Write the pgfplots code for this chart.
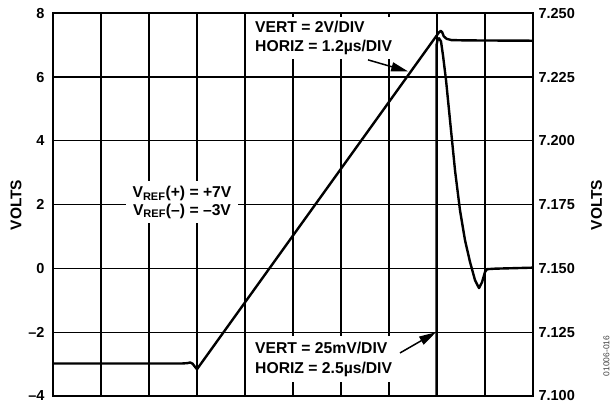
\documentclass[border=0pt]{standalone}
\usepackage{pgfplots}
\pgfplotsset{compat=1.18}
\usepackage{fontspec}
\setmainfont{Liberation Sans}
\usetikzlibrary{arrows.meta}

\newcommand{\tickfont}{\fontsize{14.5}{16}\selectfont\bfseries}
\newcommand{\annfont}{\fontsize{15.7}{19.5}\selectfont\bfseries}

\begin{document}
\begin{tikzpicture}
\begin{axis}[
  name=main,
  scale only axis, width=480pt, height=382.7pt,
  xmin=0, xmax=10, ymin=-4, ymax=8,
  xtick={0,1,2,3,4,5,6,7,8,9,10}, xticklabels={},
  ytick={-4,-2,0,2,4,6,8},
  yticklabels={–4,–2,0,2,4,6,8},
  grid=major, major grid style={black, line width=1.2pt},
  major tick length=0pt,
  axis line style={line width=2pt},
  yticklabel style={font=\tickfont, xshift=-5pt},
  clip=true,
]
\addplot[black, line width=2.4pt, line join=round] coordinates {
 (0,-2.98) (2.70,-2.98) (2.80,-2.97) (2.86,-2.95) (2.91,-2.99) (2.95,-3.07) (3.00,-3.16)
 (8.04,7.40) (8.08,7.45) (8.11,7.40) (8.14,7.28) (8.20,7.20) (8.30,7.16) (8.60,7.15) (10,7.14)
};
\node[anchor=west, fill=white, inner xsep=3pt, inner ysep=4pt, align=left, font=\annfont]
  at (axis cs:4.146,7.23) {VERT = 2V/DIV\\HORIZ = 1.2µs/DIV};
\node[anchor=center, fill=white, inner xsep=7pt, inner ysep=5pt, align=center, font=\annfont]
  at (axis cs:2.6875,2.07) {V\textsubscript{REF}(+) = +7V\\[-2pt]V\textsubscript{REF}(–) = –3V};
\node[anchor=west, fill=white, inner xsep=3pt, inner ysep=6pt, align=left, font=\annfont]
  at (axis cs:4.146,-2.85) {VERT = 25mV/DIV\\HORIZ = 2.5µs/DIV};
\draw[black, line width=1.5pt, -{Triangle[length=17pt,width=9pt]}]
  (axis cs:6.5625,6.54) -- (axis cs:7.40,6.175);
\draw[black, line width=1.5pt, -{Triangle[length=17pt,width=9pt]}]
  (axis cs:7.23,-2.65) -- (axis cs:7.98,-2.0);
\end{axis}
\begin{axis}[
  scale only axis, width=480pt, height=382.7pt,
  xmin=0, xmax=10, ymin=7.1, ymax=7.25,
  xtick=\empty,
  ytick={7.1,7.125,7.15,7.175,7.2,7.225,7.25},
  yticklabels={7.100,7.125,7.150,7.175,7.200,7.225,7.250},
  ytick pos=right, yticklabel pos=right,
  major tick length=0pt,
  axis line style={line width=2pt},
  yticklabel style={font=\tickfont, xshift=2pt},
  clip=true,
]
\addplot[black, line width=2.4pt, line join=round] coordinates {
 (7.99,7.095) (7.99,7.2375) (8.010,7.2394) (8.042,7.2402) (8.083,7.2390) (8.125,7.2335)
 (8.188,7.2238) (8.271,7.2081) (8.375,7.1885) (8.479,7.1728) (8.583,7.1611) (8.688,7.1525)
 (8.792,7.1454) (8.875,7.1423) (8.938,7.1446) (9.000,7.1486) (9.042,7.1497) (9.208,7.1499) (10,7.1503)
};
\end{axis}
\node[rotate=90, font=\fontsize{15.5}{17}\selectfont\bfseries] at ([shift={(-37pt,191pt)}]main.south west) {VOLTS};
\node[rotate=90, font=\fontsize{15.5}{17}\selectfont\bfseries] at ([shift={(543.5pt,191pt)}]main.south west) {VOLTS};
\node[rotate=90, font=\fontsize{8.5}{10}\selectfont, text=black!75] at ([shift={(553.5pt,40pt)}]main.south west) {01006-016};
\pgfresetboundingbox
\path[use as bounding box] ([shift={(-53pt,-10pt)}]main.south west) rectangle ([shift={(78pt,13.3pt)}]main.north east);
\end{tikzpicture}
\end{document}
